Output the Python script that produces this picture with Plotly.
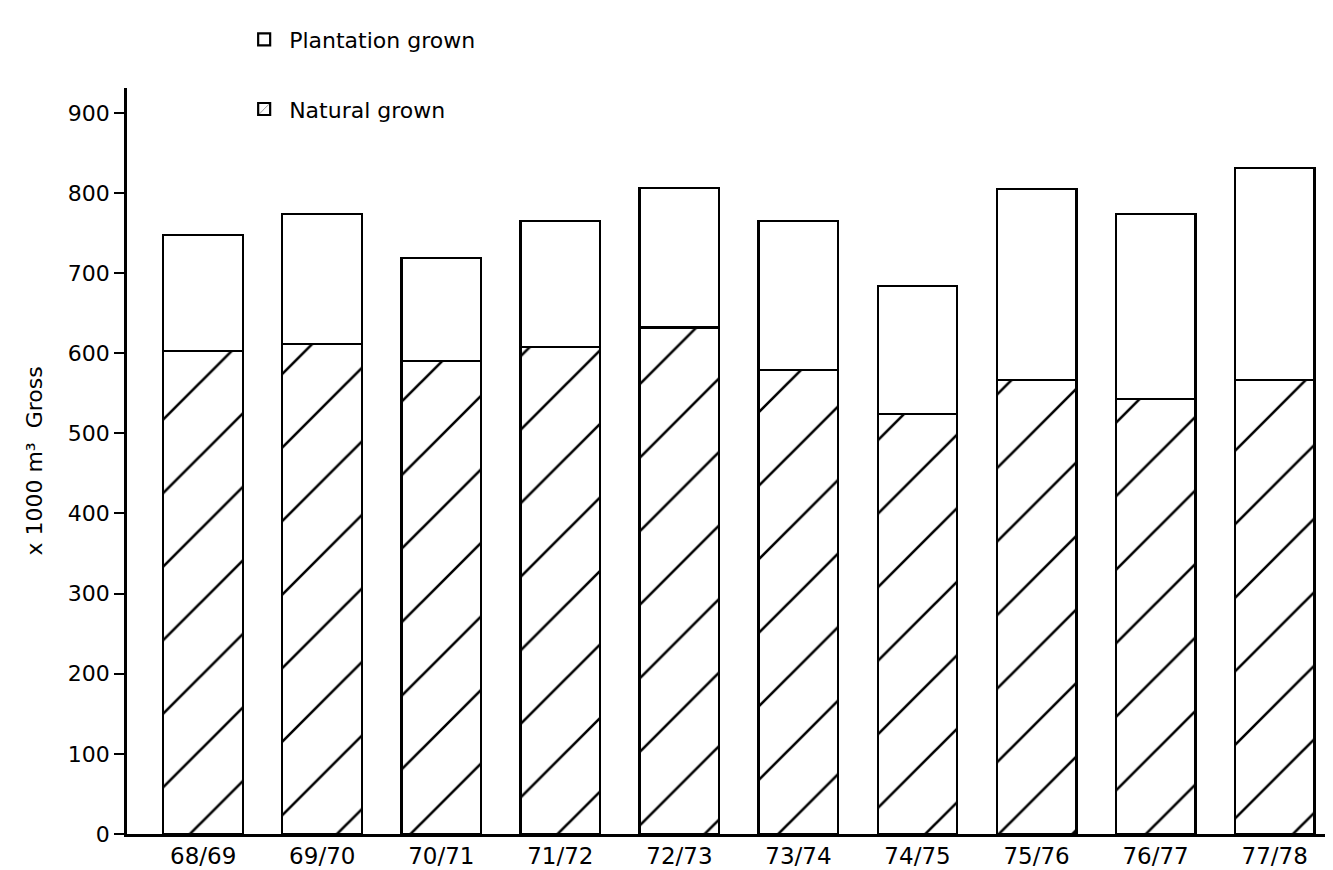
import plotly.graph_objects as go

seasons = ["68/69", "69/70", "70/71", "71/72", "72/73", "73/74", "74/75", "75/76", "76/77", "77/78"]
totals = [748, 774, 719, 765, 806, 765, 684, 805, 774, 831]
natural = [603, 612, 590, 608, 632, 579, 524, 567, 543, 567]
plantation = [t - n for t, n in zip(totals, natural)]
y_ticks = [0, 100, 200, 300, 400, 500, 600, 700, 800, 900]

FONT = "DejaVu Sans, Liberation Sans, Arial, sans-serif"

fig = go.Figure()
fig.add_trace(go.Bar(
    x=seasons, y=natural, name="Natural grown", legendgroup="n", legendrank=2,
    marker=dict(color="white", line=dict(color="black", width=2.2),
                pattern=dict(shape="/", fgcolor="black", bgcolor="white",
                             fgopacity=1, size=52, solidity=0.05,
                             fillmode="replace")),
))
fig.add_trace(go.Bar(
    x=seasons, y=plantation, name="Plantation grown", legendgroup="p", legendrank=1,
    marker=dict(color="white", line=dict(color="black", width=2.2)),
))

fig.update_layout(
    barmode="stack",
    bargap=0.33,
    width=1325, height=862,
    paper_bgcolor="white", plot_bgcolor="white",
    margin=dict(l=119, r=0, t=80, b=36, autoexpand=False),
    font=dict(family=FONT, size=22, color="black"),
    showlegend=True,
    legend=dict(
        x=0.093, y=1.093, xanchor="left", yanchor="top",
        traceorder="grouped", tracegroupgap=38,
        itemwidth=40,
        font=dict(size=22, family=FONT, color="black"),
        bgcolor="rgba(0,0,0,0)",
    ),
    xaxis=dict(
        type="category", range=[-0.64, 9.49],
        showline=True, linecolor="black", linewidth=2.5,
        showgrid=False, ticks="", tickfont=dict(size=23, family=FONT),
        automargin=False,
    ),
    yaxis=dict(
        range=[0, 931], tickvals=y_ticks, ticktext=[str(v) for v in y_ticks],
        showline=True, linecolor="black", linewidth=2.5,
        showgrid=False, zeroline=False,
        ticks="outside", ticklen=10, tickwidth=2, tickcolor="black",
        tickfont=dict(size=22, family=FONT),
        title=dict(text="x 1000 m³  Gross", standoff=20,
                   font=dict(size=22, family=FONT)),
        automargin=False,
    ),
)

fig.write_html("out.html")
